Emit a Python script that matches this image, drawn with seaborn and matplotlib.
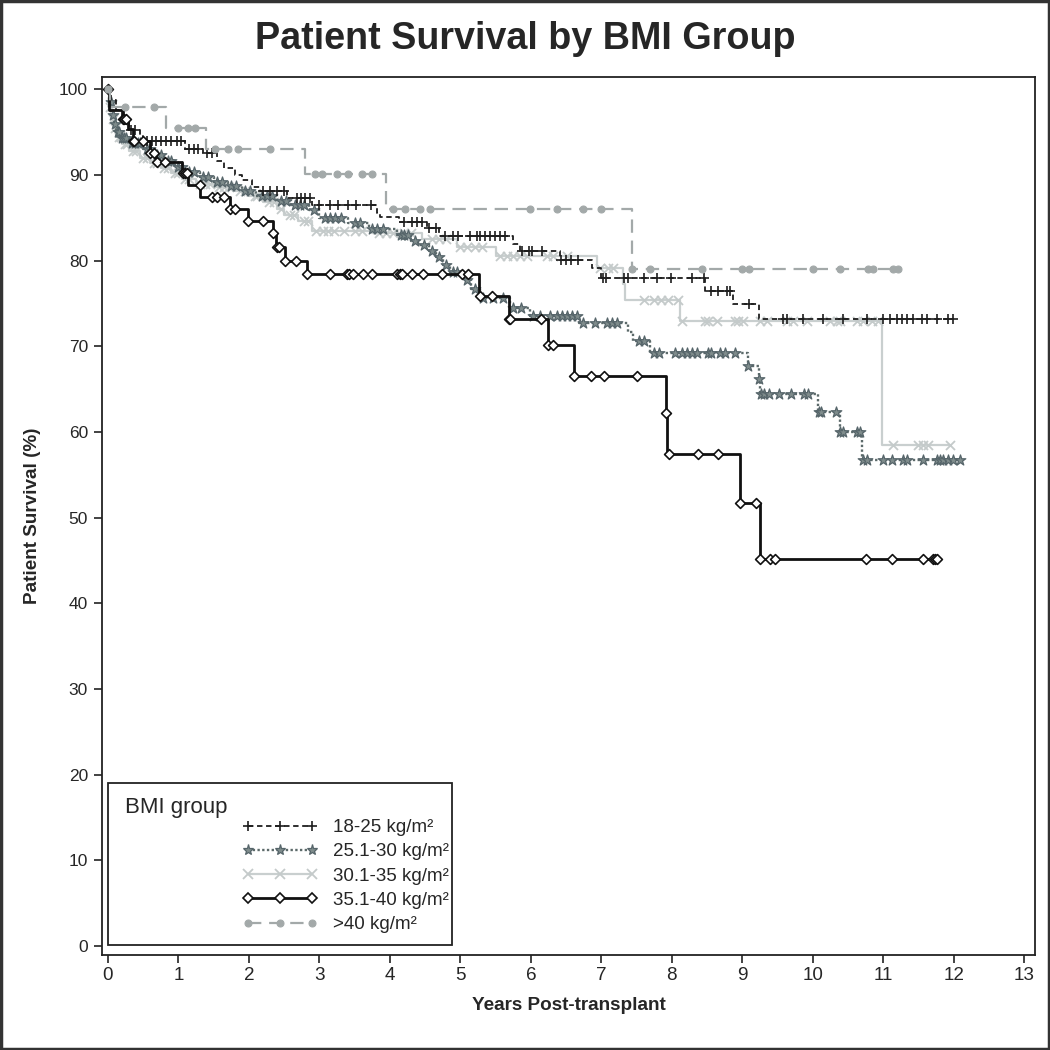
import numpy as np
import pandas as pd
import matplotlib
matplotlib.use("Agg")
import matplotlib.pyplot as plt
import seaborn as sns
from matplotlib.lines import Line2D
from matplotlib.patches import Rectangle
from matplotlib import font_manager

# ---------------- data ----------------
labels = ["18-25 kg/m\u00b2", "25.1-30 kg/m\u00b2", "30.1-35 kg/m\u00b2",
          "35.1-40 kg/m\u00b2", ">40 kg/m\u00b2"]

# event times (years) and survival (%) after each event
t_18_25 = [0, 0.05, 0.12, 0.20, 0.30, 0.45, 0.50, 1.09, 1.35, 1.55, 1.65, 1.80,
           1.90, 2.05, 2.16, 2.54, 2.90, 3.81, 3.86, 4.13, 4.52, 4.70, 5.75,
           5.84, 6.41, 6.87, 7.00, 8.47, 8.87, 9.23]
s_18_25 = [100, 98.8, 97.6, 96.4, 95.3, 94.6, 94.0, 93.1, 92.6, 91.7, 90.8, 90.0,
           89.4, 88.6, 88.2, 87.3, 86.5, 85.6, 85.1, 84.5, 83.8, 82.9, 82.0,
           81.1, 80.1, 79.1, 78.0, 76.5, 74.9, 73.2]
c_18_25 = [0.25, 0.33, 0.38, 0.55, 0.62, 0.68, 0.75, 0.82, 0.90, 0.98, 1.03, 1.15,
           1.22, 1.28, 1.40, 1.48, 2.20, 2.30, 2.40, 2.50, 2.68, 2.74, 2.80, 2.86,
           3.00, 3.15, 3.27, 3.40, 3.52, 3.73, 4.20, 4.32, 4.39, 4.46, 4.56, 4.65,
           4.78, 4.90, 4.96, 5.13, 5.23, 5.28, 5.35, 5.42, 5.49, 5.56, 5.63, 5.88,
           5.97, 6.02, 6.16, 6.43, 6.50, 6.57, 6.67, 7.02, 7.07, 7.32, 7.37, 7.60,
           7.79, 7.98, 8.28, 8.45, 8.56, 8.66, 8.78, 8.83, 9.10, 9.57, 9.63, 9.86,
           10.14, 10.43, 10.77, 10.99, 11.09, 11.19, 11.26, 11.33, 11.42, 11.55,
           11.62, 11.76, 11.91, 11.99]

t_25_30 = [0, 0.02, 0.05, 0.08, 0.12, 0.18, 0.30, 0.50, 0.65, 0.80, 0.95, 1.10,
           1.30, 1.50, 1.70, 1.90, 2.10, 2.40, 2.60, 2.85, 3.00, 3.40, 3.70, 4.10,
           4.30, 4.40, 4.55, 4.65, 4.75, 4.85, 5.05, 5.15, 5.28, 5.70, 5.98, 6.68,
           7.37, 7.45, 7.69, 9.08, 9.24, 9.25, 10.07, 10.38, 10.70]
s_25_30 = [100, 98.5, 97.0, 96.0, 95.0, 94.3, 93.7, 93.0, 92.3, 91.7, 91.0, 90.4,
           89.8, 89.2, 88.7, 88.1, 87.6, 87.0, 86.5, 85.9, 85.0, 84.4, 83.7, 83.0,
           82.3, 81.8, 81.2, 80.4, 79.5, 78.7, 77.7, 76.7, 75.6, 74.5, 73.6, 72.7,
           71.7, 70.6, 69.2, 67.7, 66.2, 64.5, 62.3, 60.0, 56.7]
c_25_30 = [0.04, 0.07, 0.10, 0.14, 0.16, 0.20, 0.23, 0.26, 0.34, 0.38, 0.42, 0.46,
           0.55, 0.60, 0.70, 0.75, 0.85, 0.90, 1.00, 1.05, 1.15, 1.22, 1.35, 1.42,
           1.55, 1.62, 1.75, 1.82, 1.95, 2.02, 2.18, 2.25, 2.32, 2.45, 2.52, 2.65,
           2.72, 2.78, 2.92, 3.08, 3.15, 3.22, 3.30, 3.50, 3.58, 3.75, 3.82, 3.90,
           4.15, 4.20, 4.25, 4.35, 4.48, 4.60, 4.70, 4.80, 4.90, 4.95, 5.10, 5.20,
           5.32, 5.46, 5.60, 5.74, 5.86, 6.03, 6.13, 6.27, 6.37, 6.44, 6.51, 6.58,
           6.65, 6.74, 6.91, 7.08, 7.15, 7.22, 7.53, 7.60, 7.74, 7.81, 8.04, 8.14,
           8.21, 8.28, 8.35, 8.51, 8.56, 8.68, 8.75, 8.89, 9.08, 9.24, 9.27, 9.31,
           9.38, 9.52, 9.69, 9.88, 9.93, 10.08, 10.12, 10.33, 10.39, 10.43, 10.62,
           10.67, 10.71, 10.77, 10.99, 11.12, 11.28, 11.33, 11.56, 11.76, 11.80,
           11.84, 11.91, 11.99, 12.09]

t_30_35 = [0, 0.02, 0.05, 0.08, 0.12, 0.20, 0.30, 0.45, 0.60, 0.75, 0.90, 1.05,
           1.25, 1.50, 1.80, 2.00, 2.20, 2.40, 2.50, 2.70, 2.90, 3.75, 4.45, 4.95,
           5.50, 6.94, 7.30, 7.33, 8.12, 10.98]
s_30_35 = [100, 98.0, 96.5, 95.5, 94.5, 93.6, 92.8, 92.0, 91.4, 90.8, 90.2, 89.6,
           89.0, 88.6, 88.2, 87.6, 86.9, 86.0, 85.3, 84.6, 83.5, 83.2, 82.6, 81.6,
           80.5, 79.1, 77.3, 75.4, 73.0, 58.5]
c_30_35 = [0.03, 0.07, 0.10, 0.15, 0.18, 0.24, 0.27, 0.35, 0.40, 0.50, 0.55, 0.65,
           0.70, 0.80, 0.85, 0.95, 1.00, 1.10, 1.15, 1.30, 1.38, 1.45, 1.58, 1.65,
           1.72, 1.88, 1.95, 2.08, 2.12, 2.28, 2.35, 2.45, 2.58, 2.64, 2.78, 2.84,
           2.95, 3.05, 3.12, 3.20, 3.35, 3.50, 3.60, 3.85, 3.95, 4.05, 4.20, 4.30,
           4.60, 4.70, 4.79, 5.00, 5.10, 5.20, 5.30, 5.56, 5.66, 5.75, 5.85, 5.94,
           6.23, 6.32, 6.51, 6.98, 7.09, 7.16, 7.60, 7.75, 7.84, 7.94, 8.08, 8.14,
           8.47, 8.51, 8.64, 8.89, 8.94, 9.01, 9.25, 9.35, 9.63, 9.72, 9.91, 10.24,
           10.34, 10.38, 10.62, 10.71, 10.84, 10.92, 11.13, 11.49, 11.56, 11.63,
           11.94]

t_35_40 = [0, 0.02, 0.21, 0.28, 0.36, 0.60, 0.68, 1.05, 1.14, 1.31, 1.73, 1.99,
           2.34, 2.38, 2.51, 2.82, 5.27, 5.69, 6.24, 6.61, 7.91, 7.93, 8.96, 9.25]
s_35_40 = [100, 97.6, 96.5, 95.4, 94.0, 92.6, 91.5, 90.2, 88.8, 87.4, 86.1, 84.6,
           83.2, 81.6, 80.0, 78.4, 75.9, 73.2, 70.2, 66.6, 62.2, 57.4, 51.7, 45.2]
c_35_40 = [0.0, 0.21, 0.23, 0.25, 0.36, 0.37, 0.50, 0.60, 0.65, 0.70, 0.81, 1.06,
           1.10, 1.12, 1.30, 1.47, 1.55, 1.65, 1.73, 1.80, 1.99, 2.20, 2.34, 2.40,
           2.42, 2.51, 2.67, 2.82, 3.15, 3.39, 3.42, 3.47, 3.62, 3.74, 4.10, 4.14,
           4.17, 4.31, 4.47, 4.74, 5.02, 5.11, 5.28, 5.45, 5.69, 5.70, 6.14, 6.24,
           6.31, 6.61, 6.85, 7.03, 7.50, 7.91, 7.96, 8.37, 8.65, 8.96, 9.19, 9.25,
           9.39, 9.46, 10.75, 11.12, 11.56, 11.70, 11.73, 11.76]

t_40 = [0, 0.03, 0.82, 1.39, 2.80, 3.94, 7.43]
s_40 = [100, 98.0, 95.5, 93.0, 90.1, 86.1, 79.0]
c_40 = [0.0, 0.24, 0.66, 1.00, 1.13, 1.24, 1.52, 1.70, 1.85, 2.30, 2.94, 3.03,
        3.25, 3.40, 3.60, 3.74, 4.04, 4.21, 4.43, 4.57, 5.99, 6.37, 6.74, 7.00,
        7.43, 7.69, 8.43, 8.99, 9.10, 10.00, 10.38, 10.78, 10.85, 11.13, 11.20]

x_ticks = list(range(0, 14))
y_ticks = list(range(0, 101, 10))

# ---------------- styles ----------------
styles = [
    dict(color="#1e1e1e", ls=(0, (3, 2)), lw=1.3, marker="+", ms=7, mfc="#1e1e1e", mec="#1e1e1e", mew=1.2, z=4),
    dict(color="#5c6a6a", ls=(0, (1, 1)), lw=1.7, marker="*", ms=8, mfc="#7f8c8c", mec="#56656a", mew=0.9, z=3),
    dict(color="#c9cfcf", ls="-", lw=1.6, marker="x", ms=6.5, mfc="#c4caca", mec="#c4caca", mew=1.3, z=2),
    dict(color="#111111", ls="-", lw=2.0, marker="D", ms=5, mfc="white", mec="#111111", mew=1.2, z=5),
    dict(color="#a3a9a9", ls=(0, (6, 3.5)), lw=1.6, marker="o", ms=5, mfc="#a3a9a9", mec="#a3a9a9", mew=0.8, z=6),
]
series = [(t_18_25, s_18_25, c_18_25), (t_25_30, s_25_30, c_25_30),
          (t_30_35, s_30_35, c_30_35), (t_35_40, s_35_40, c_35_40),
          (t_40, s_40, c_40)]

# ---------------- fonts ----------------
sns.set_theme(style="white")
names = {f.name for f in font_manager.fontManager.ttflist}
NARROW = "Liberation Sans Narrow" if "Liberation Sans Narrow" in names else "Liberation Sans"
narrow_scale = 1.0 if NARROW == "Liberation Sans Narrow" else 0.85
plt.rcParams["font.family"] = ["Liberation Sans", "DejaVu Sans"]

fig = plt.figure(figsize=(10.5, 10.5), dpi=100)
ax = fig.add_axes([0.0971, 0.0905, 0.8886, 0.8357])

for (t, s, c), st, lab in zip(series, styles, labels):
    t = np.asarray(t, float)
    s = np.asarray(s, float)
    c = np.asarray(c, float)
    end = max(c.max(), t.max())
    tt = np.append(t, end)
    ss = np.append(s, s[-1])
    df = pd.DataFrame({"t": tt, "S": ss})
    sns.lineplot(data=df, x="t", y="S", ax=ax, drawstyle="steps-post",
                 estimator=None, sort=False, color=st["color"],
                 linestyle=st["ls"], linewidth=st["lw"], zorder=st["z"], legend=False)
    idx = np.searchsorted(t, c, side="right") - 1
    dfc = pd.DataFrame({"t": c, "S": s[idx]})
    if st["marker"] in ("+", "x"):
        sns.scatterplot(data=dfc, x="t", y="S", ax=ax, marker=st["marker"],
                        s=st["ms"] ** 2, color=st["mec"], linewidth=st["mew"],
                        zorder=st["z"] + 0.5, legend=False)
    else:
        sns.scatterplot(data=dfc, x="t", y="S", ax=ax, marker=st["marker"],
                        s=st["ms"] ** 2, facecolor=st["mfc"], edgecolor=st["mec"],
                        linewidth=st["mew"], zorder=st["z"] + 0.5, legend=False)

ax.set_xlim(-0.085, 13.15)
ax.set_ylim(-1.05, 101.4)
ax.set_xticks(x_ticks)
ax.set_yticks(y_ticks)
ax.set_xticklabels([str(v) for v in x_ticks], fontfamily=NARROW, fontsize=16 * narrow_scale)
ax.set_yticklabels([str(v) for v in y_ticks], fontsize=12.5)
ax.tick_params(axis="both", direction="out", length=6, width=1.2, color="#222222",
               bottom=True, left=True, pad=4)
ax.tick_params(axis="x", pad=3)
for sp in ax.spines.values():
    sp.set_visible(True)
    sp.set_color("#222222")
    sp.set_linewidth(1.3)
ax.grid(False)

ax.set_xlabel("Years Post-transplant", fontfamily=NARROW, fontweight="bold",
              fontsize=16 * narrow_scale, labelpad=9)
ax.set_ylabel("Patient Survival (%)", fontfamily=NARROW, fontweight="bold",
              fontsize=16 * narrow_scale, labelpad=13)
fig.text(0.5, 0.963, "Patient Survival by BMI Group", ha="center", va="center",
         fontfamily=NARROW, fontweight="bold", fontsize=32 * narrow_scale)

# legend box
ax.add_patch(Rectangle((0.0064, 0.0114), 0.3686, 0.1846, transform=ax.transAxes,
                       fill=True, facecolor="white", edgecolor="#222222",
                       linewidth=1.3, zorder=10))
ax.text(0.0247, 0.168, "BMI group", transform=ax.transAxes, ha="left", va="center",
        fontsize=16, zorder=11)
handles = [Line2D([0], [0], color=st["color"], linestyle=st["ls"], linewidth=st["lw"],
                  marker=st["marker"], markersize=st["ms"], markerfacecolor=st["mfc"],
                  markeredgecolor=st["mec"], markeredgewidth=st["mew"]) for st in styles]
leg = ax.legend(handles, labels, loc="upper left", bbox_to_anchor=(0.151, 0.155),
                frameon=False, numpoints=3, handlelength=4.0, handletextpad=0.8,
                labelspacing=0.38, borderpad=0, borderaxespad=0, fontsize=13.5)
leg.set_zorder(12)

fig.patches.append(Rectangle((0.001, 0.001), 0.998, 0.998, transform=fig.transFigure,
                             fill=False, edgecolor="#333333", linewidth=2.5))
fig.savefig("out.png", dpi=100)
